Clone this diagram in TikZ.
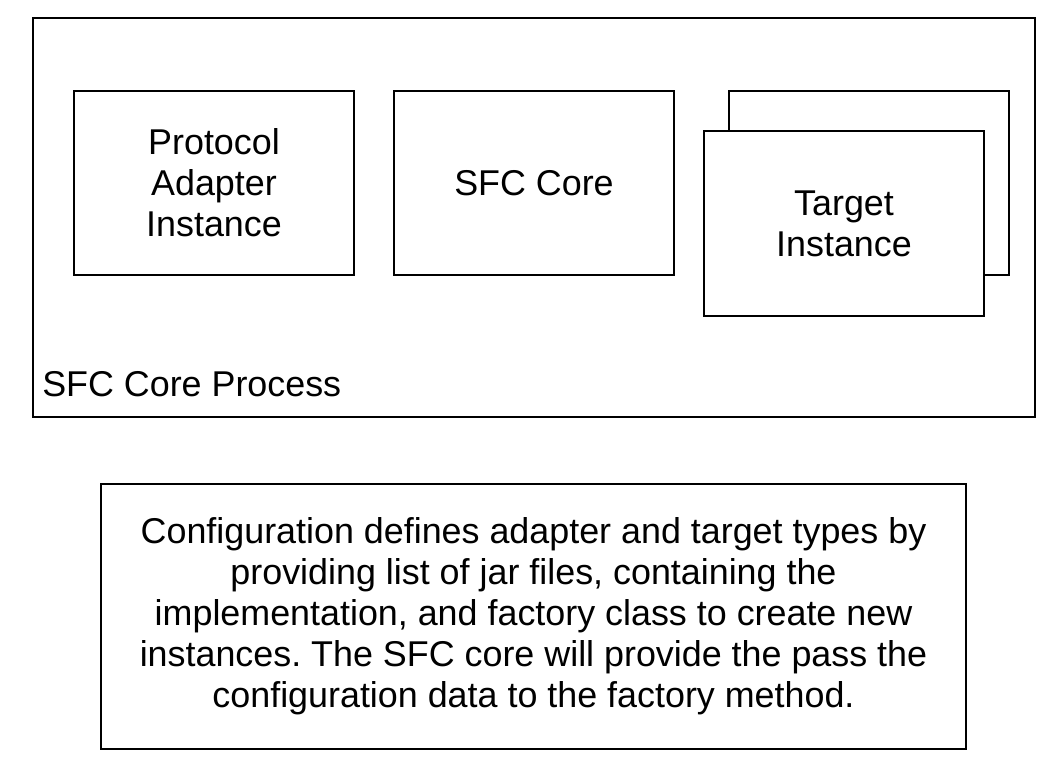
\documentclass[tikz,border=0pt]{standalone}
\usepackage{fontspec}
\setmainfont{Liberation Sans}
\frenchspacing
\begin{document}
\begin{tikzpicture}[x=0.75pt,y=-0.75pt,
  box/.style={draw=black,line width=1.5pt,fill=white,align=center,inner sep=0pt,
    font=\fontsize{26.9}{30.75}\selectfont},
  lbl/.style={inner sep=0pt,font=\fontsize{26.9}{30.75}\selectfont}]
\useasboundingbox (0,0) rectangle (1056,780);
\node[box,minimum width=751.5pt,minimum height=299.25pt] (proc) at (534,217.5) {};
\node[box,minimum width=210pt,minimum height=138pt] (pa) at (214,183) {Protocol\\Adapter\\Instance};
\node[box,minimum width=210pt,minimum height=138pt] (core) at (534,183) {SFC Core};
\node[box,minimum width=210pt,minimum height=138pt] (tback) at (869,183) {};
\node[box,minimum width=210pt,minimum height=138.75pt] (tfront) at (844,223.5) {Target\\Instance};
\node[lbl,anchor=base west] (plabel) at (42,397) {SFC Core Process};
\node[box,minimum width=648.75pt,minimum height=198.75pt] (cfg) at (533.5,616.5)
  {Configuration defines adapter and target types by\\
   providing list of jar files, containing the\\
   implementation, and factory class to create new\\
   instances. The SFC core will provide the pass the\\
   configuration data to the factory method.};
\end{tikzpicture}
\end{document}
